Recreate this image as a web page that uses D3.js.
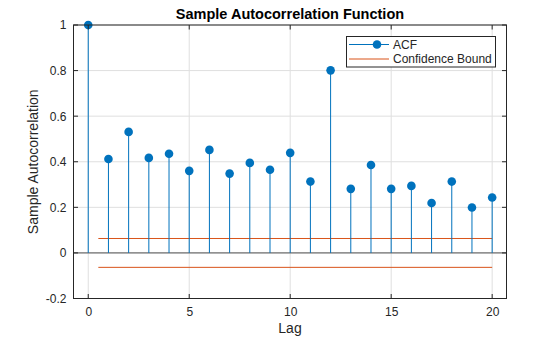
<!DOCTYPE html>
<html><head><meta charset="utf-8">
<script src="https://cdn.jsdelivr.net/npm/d3@7"></script>
<style>body{margin:0;background:#fff;} text{font-family:"Liberation Sans",Arial,sans-serif;}</style>
</head><body>
<svg id="c" width="560" height="337"></svg>
<script>
const lags = d3.range(0, 21);
const acf = [1, 0.412, 0.531, 0.417, 0.435, 0.360, 0.452, 0.348, 0.395, 0.365, 0.439,
             0.313, 0.801, 0.281, 0.386, 0.281, 0.294, 0.219, 0.313, 0.199, 0.243];
const bound = 0.0633;
const boundRange = [0.5, 20];
const xTicks = [0, 5, 10, 15, 20];
const yTicks = [-0.2, 0, 0.2, 0.4, 0.6, 0.8, 1];
const yTickLabels = ["-0.2", "0", "0.2", "0.4", "0.6", "0.8", "1"];
const titleText = "Sample Autocorrelation Function";
const xLabel = "Lag", yLabel = "Sample Autocorrelation";
const legendLabels = ["ACF", "Confidence Bound"];

const L = 73.5, R = 506.5, T = 25, B = 298.5;
const svg = d3.select("#c");
const x = d3.scaleLinear().domain([-0.73, 20.71]).range([L, R]);
const y = d3.scaleLinear().domain([-0.2, 1]).range([B, T]);
const axisCol = "#262626", blue = "#0072BD", orange = "#D95319";

// grid
svg.append("g").selectAll("line").data(xTicks).join("line")
  .attr("x1", d => x(d)).attr("x2", d => x(d)).attr("y1", T).attr("y2", B)
  .attr("stroke", "#dfdfdf").attr("stroke-width", 1);
svg.append("g").selectAll("line").data(yTicks).join("line")
  .attr("x1", L).attr("x2", R).attr("y1", d => y(d)).attr("y2", d => y(d))
  .attr("stroke", "#dfdfdf").attr("stroke-width", 1);

// zero line
svg.append("line").attr("x1", L).attr("x2", R).attr("y1", y(0)).attr("y2", y(0))
  .attr("stroke", "#555").attr("stroke-width", 1);

// confidence bounds
svg.append("g").selectAll("line").data([bound, -bound]).join("line")
  .attr("x1", x(boundRange[0])).attr("x2", x(boundRange[1]))
  .attr("y1", d => y(d)).attr("y2", d => y(d))
  .attr("stroke", orange).attr("stroke-width", 1);

// stems
const pts = lags.map((l, i) => ({l, v: acf[i]}));
svg.append("g").selectAll("line").data(pts).join("line")
  .attr("x1", d => x(d.l)).attr("x2", d => x(d.l)).attr("y1", y(0)).attr("y2", d => y(d.v))
  .attr("stroke", blue).attr("stroke-width", 1);
svg.append("g").selectAll("circle").data(pts).join("circle")
  .attr("cx", d => x(d.l)).attr("cy", d => y(d.v)).attr("r", 4.3).attr("fill", blue);

// axes
const xb = d3.axisBottom(x).tickValues(xTicks).tickSize(0).tickPadding(9).tickFormat(d3.format("d"));
const yl = d3.axisLeft(y).tickValues(yTicks).tickSize(0).tickPadding(7).tickFormat((d, i) => yTickLabels[i]);
const gx = svg.append("g").attr("transform", `translate(0,${B})`).call(xb);
const gy = svg.append("g").attr("transform", `translate(${L},0)`).call(yl);
[gx, gy].forEach(g => {
  g.select(".domain").remove();
  g.selectAll("text").attr("fill", axisCol).style("font-size", "12px").style("font-family", "'Liberation Sans',Arial,sans-serif");
});
// inward ticks
const tk = svg.append("g").attr("stroke", axisCol);
xTicks.forEach(t => {
  tk.append("line").attr("x1", x(t)).attr("x2", x(t)).attr("y1", B).attr("y2", B - 4.5);
  tk.append("line").attr("x1", x(t)).attr("x2", x(t)).attr("y1", T).attr("y2", T + 4.5);
});
yTicks.forEach(t => {
  tk.append("line").attr("x1", L).attr("x2", L + 4.5).attr("y1", y(t)).attr("y2", y(t));
  tk.append("line").attr("x1", R).attr("x2", R - 4.5).attr("y1", y(t)).attr("y2", y(t));
});
// box
svg.append("rect").attr("x", L).attr("y", T).attr("width", R - L).attr("height", B - T)
  .attr("fill", "none").attr("stroke", axisCol).attr("stroke-width", 1);

// labels
svg.append("text").attr("x", (L + R) / 2).attr("y", 18.5).attr("text-anchor", "middle")
  .attr("font-weight", "bold").attr("font-size", "14.5px").attr("fill", "#000").text(titleText);
svg.append("text").attr("x", (L + R) / 2).attr("y", 333).attr("text-anchor", "middle")
  .attr("font-size", "14px").attr("fill", axisCol).text(xLabel);
svg.append("text").attr("transform", `translate(38,${(T + B) / 2}) rotate(-90)`).attr("text-anchor", "middle")
  .attr("font-size", "14px").attr("fill", axisCol).text(yLabel);

// legend
const lg = svg.append("g");
lg.append("rect").attr("x", 346.5).attr("y", 36.5).attr("width", 149).attr("height", 30.5)
  .attr("fill", "#fff").attr("stroke", axisCol).attr("stroke-width", 1);
lg.append("line").attr("x1", 349).attr("x2", 389).attr("y1", 44.5).attr("y2", 44.5).attr("stroke", blue);
lg.append("circle").attr("cx", 377).attr("cy", 44.5).attr("r", 4.3).attr("fill", blue);
lg.append("line").attr("x1", 349).attr("x2", 389).attr("y1", 59).attr("y2", 59).attr("stroke", orange);
lg.selectAll("text.lt").data(legendLabels).join("text").attr("class", "lt")
  .attr("x", 393).attr("y", (d, i) => 48.8 + i * 14.5).attr("font-size", "12px").attr("fill", axisCol).text(d => d);
</script>
</body></html>
